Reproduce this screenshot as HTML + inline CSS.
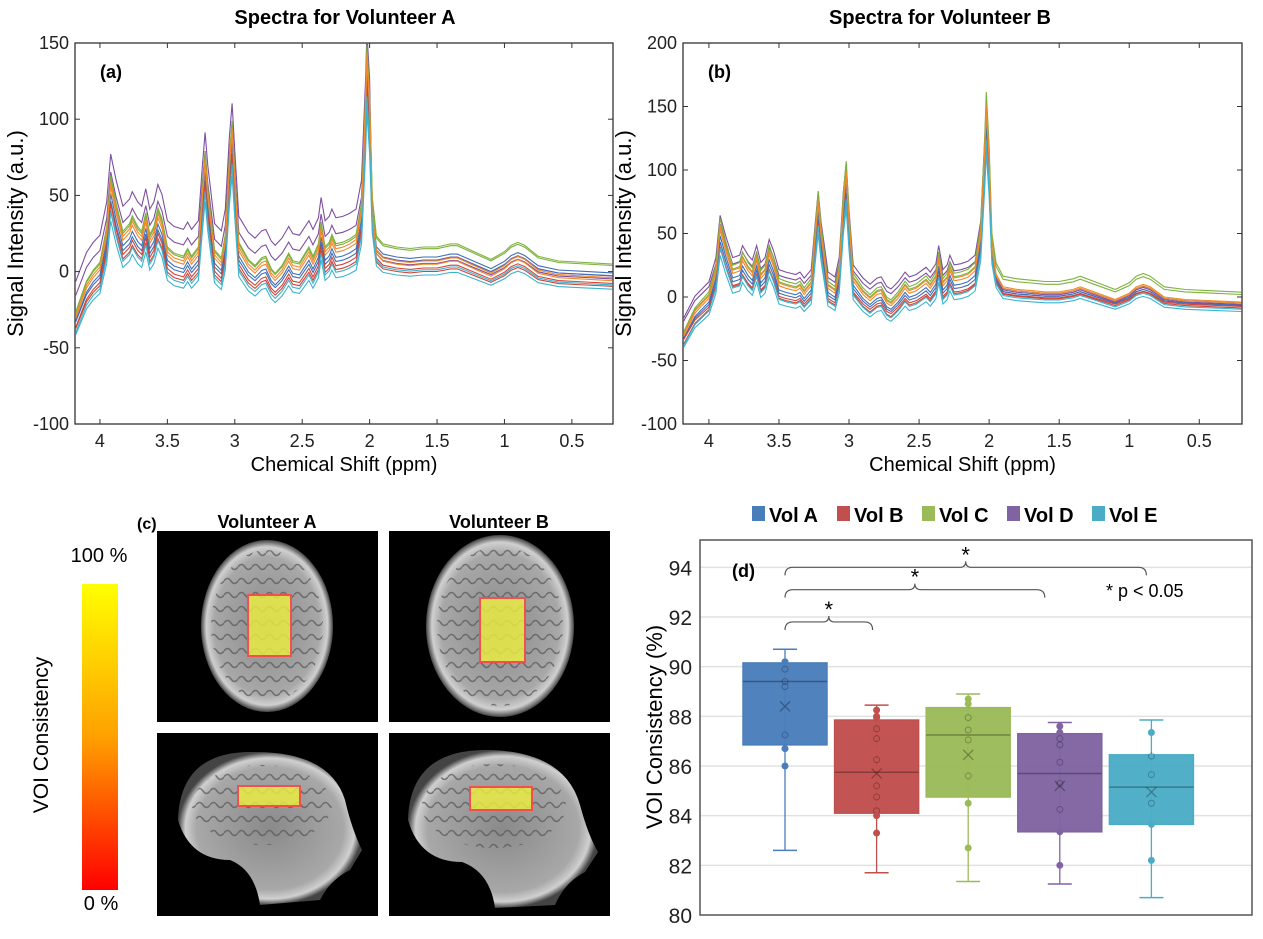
<!DOCTYPE html>
<html><head><meta charset="utf-8">
<style>
body{margin:0;background:#fff;}
svg{display:block;font-family:"Liberation Sans",sans-serif;}
</style></head>
<body>
<svg id="fig" width="1263" height="939" viewBox="0 0 1263 939" xmlns="http://www.w3.org/2000/svg">
<defs>
<linearGradient id="cbar" x1="0" y1="0" x2="0" y2="1">
<stop offset="0" stop-color="#ffff00"/><stop offset="0.5" stop-color="#ffa000"/><stop offset="1" stop-color="#ff0000"/>
</linearGradient>
<radialGradient id="brain" cx="0.5" cy="0.5" r="0.5">
<stop offset="0" stop-color="#8a8a8a"/><stop offset="0.8" stop-color="#a8a8a8"/><stop offset="0.92" stop-color="#d0d0d0"/><stop offset="1" stop-color="#444"/>
</radialGradient>
<pattern id="gyri" width="14" height="14" patternUnits="userSpaceOnUse">
<rect width="14" height="14" fill="none"/>
<path d="M0 7 Q3.5 2 7 7 T14 7" stroke="#555" stroke-width="1.6" fill="none"/>
</pattern>
</defs>

<text x="345" y="24" text-anchor="middle" font-size="20" font-weight="bold">Spectra for Volunteer A</text>
<text x="940" y="24" text-anchor="middle" font-size="20" font-weight="bold">Spectra for Volunteer B</text>

<g id="specA"></g>
<g id="specB"></g>

<g>
<text x="137" y="529" font-size="16" font-weight="bold">(c)</text>
<rect x="82" y="584" width="36" height="306" fill="url(#cbar)"/>
<text x="99" y="562" text-anchor="middle" font-size="20">100 %</text>
<text x="101" y="910" text-anchor="middle" font-size="20">0 %</text>
<text transform="translate(48,735) rotate(-90)" text-anchor="middle" font-size="21">VOI Consistency</text>
<text x="267" y="528" text-anchor="middle" font-size="18" font-weight="bold">Volunteer A</text>
<text x="499" y="528" text-anchor="middle" font-size="18" font-weight="bold">Volunteer B</text>

<g>
<rect x="157" y="531" width="221" height="191" fill="#000"/>
<ellipse cx="267" cy="626" rx="66" ry="86" fill="url(#brain)"/>
<ellipse cx="267" cy="626" rx="56" ry="76" fill="url(#gyri)" opacity="0.7"/>
<rect x="248" y="595" width="43" height="61" fill="#f0f040" fill-opacity="0.8" stroke="#f05050" stroke-width="2"/>
</g>
<g>
<rect x="389" y="531" width="221" height="191" fill="#000"/>
<ellipse cx="500" cy="626" rx="74" ry="91" fill="url(#brain)"/>
<ellipse cx="500" cy="626" rx="63" ry="80" fill="url(#gyri)" opacity="0.7"/>
<rect x="480" y="598" width="45" height="64" fill="#f0f040" fill-opacity="0.8" stroke="#f05050" stroke-width="2"/>
</g>
<g>
<rect x="157" y="733" width="221" height="183" fill="#000"/>
<path d="M178 820 Q180 750 255 752 Q330 752 345 800 Q352 830 362 850 L350 870 Q330 880 320 900 L260 905 Q255 870 230 860 Q190 860 178 820 Z" fill="url(#brain)"/>
<ellipse cx="262" cy="805" rx="70" ry="40" fill="url(#gyri)" opacity="0.7"/>
<rect x="238" y="786" width="62" height="20" fill="#f0f040" fill-opacity="0.8" stroke="#f05050" stroke-width="2"/>
</g>
<g>
<rect x="389" y="733" width="221" height="183" fill="#000"/>
<path d="M408 820 Q410 748 490 750 Q565 752 580 805 Q588 835 598 852 L585 872 Q565 882 555 905 L495 908 Q490 872 462 862 Q420 862 408 820 Z" fill="url(#brain)"/>
<ellipse cx="494" cy="806" rx="72" ry="42" fill="url(#gyri)" opacity="0.7"/>
<rect x="470" y="787" width="62" height="23" fill="#f0f040" fill-opacity="0.8" stroke="#f05050" stroke-width="2"/>
</g>
</g>

<g id="boxpanel"></g>
</svg>

<script>
// ---------- Spectra data ----------
const ppm = [4.18,4.1,4.05,4.0,3.95,3.92,3.88,3.83,3.78,3.76,3.72,3.69,3.66,3.63,3.6,3.57,3.54,3.5,3.45,3.38,3.35,3.32,3.27,3.24,3.22,3.2,3.15,3.1,3.07,3.04,3.02,3.0,2.97,2.9,2.85,2.8,2.77,2.73,2.7,2.65,2.6,2.57,2.52,2.45,2.42,2.38,2.36,2.33,2.3,2.28,2.25,2.2,2.15,2.1,2.06,2.03,2.02,2.0,1.98,1.95,1.9,1.8,1.7,1.6,1.5,1.4,1.35,1.25,1.1,1.0,0.95,0.9,0.85,0.75,0.6,0.4,0.2];
const baseA = [-30,-10,-3,2,25,58,40,22,27,32,25,22,34,20,25,37,30,12,8,6,11,6,12,50,73,50,10,5,20,70,93,60,15,4,0,5,6,-2,-5,0,8,3,2,12,6,14,28,12,15,20,14,15,17,20,40,110,142,110,40,15,10,8,7,8,8,10,10,6,0,5,9,11,9,2,-1,-2,-3];
const baseB = [-30,-12,-6,0,20,55,38,20,22,30,22,18,30,16,20,35,26,10,8,6,8,3,10,50,75,50,8,4,20,75,98,60,14,3,-2,3,4,-4,-6,0,8,4,6,12,8,15,30,10,14,22,14,15,17,22,50,120,150,110,40,18,8,6,5,4,4,6,8,4,-2,3,8,10,8,0,-2,-3,-4];
const seriesColor = ['#7e4fa1','#7e4fa1','#3e6fb8','#3e6fb8','#d0453a','#d0453a','#7fb13e','#7fb13e','#f08a2c','#f08a2c','#3db3cf','#3db3cf'];
const offsetsA = [22,12,-4,-6,-9,-11,4,3,1,-1,-16,-13];
const tailOffsetsA = [0,-2,2,0,-5,-7,8,7,-1,-3,-9,-6];
const scalesA = [0.95,0.92,0.95,0.9,0.92,0.88,1.02,1.0,1.0,0.98,0.85,0.9];
const offsetsB = [12,8,-4,-6,-10,-8,4,2,1,-1,-14,-11];
const tailOffsetsB = [-2,-3,-1,-3,-5,-4,8,6,0,-1,-8,-6];
const scalesB = [0.95,0.9,0.95,0.9,0.9,0.85,1.05,1.0,1.0,0.98,0.85,0.9];
const ticksXppm = [4,3.5,3,2.5,2,1.5,1,0.5];
const ticksYA = [-100,-50,0,50,100,150];
const ticksYB = [-100,-50,0,50,100,150,200];

const NS='http://www.w3.org/2000/svg';
function mk(tag, attrs, parent){const e=document.createElementNS(NS,tag);for(const k in attrs)e.setAttribute(k,attrs[k]);parent.appendChild(e);return e;}

function drawSpectrum(g, box, yMin, yMax, yTicks, base, offs, tails, scales, label, name){
  const xs = p => box.x0 + (4.185 - p)/(4.185-0.195)*(box.x1-box.x0);
  const ys = v => box.y1 - (v-yMin)/(yMax-yMin)*(box.y1-box.y0);
  mk('rect',{x:box.x0,y:box.y0,width:box.x1-box.x0,height:box.y1-box.y0,fill:'none',stroke:'#333','stroke-width':1.3},g);
  const cl = mk('clipPath',{id:'clip'+name},g);
  mk('rect',{x:box.x0,y:box.y0,width:box.x1-box.x0,height:box.y1-box.y0},cl);
  const lines = mk('g',{'clip-path':'url(#clip'+name+')'},g);
  for(let s=0;s<offs.length;s++){
    let d='';
    for(let i=0;i<ppm.length;i++){
      const off = ppm[i] > 1.99 ? offs[s] : tails[s];
      const v = base[i]*scales[s]+off;
      d += (i?'L':'M')+xs(ppm[i]).toFixed(1)+' '+ys(v).toFixed(1);
    }
    const p = mk('path',{d:d,fill:'none',stroke:seriesColor[s],'stroke-width':1.1},lines);
    
    
  }
  ticksXppm.forEach(t=>{
    const x=xs(t);
    mk('line',{x1:x,x2:x,y1:box.y1,y2:box.y1-5,stroke:'#333'},g);
    mk('line',{x1:x,x2:x,y1:box.y0,y2:box.y0+5,stroke:'#333'},g);
    const tx=mk('text',{x:x,y:box.y1+23,'text-anchor':'middle','font-size':18,fill:'#222'},g);
    tx.textContent=t;
    
    
  });
  yTicks.forEach(t=>{
    const y=ys(t);
    mk('line',{x1:box.x0,x2:box.x0+5,y1:y,y2:y,stroke:'#333'},g);
    mk('line',{x1:box.x1,x2:box.x1-5,y1:y,y2:y,stroke:'#333'},g);
    const tx=mk('text',{x:box.x0-6,y:y+6,'text-anchor':'end','font-size':18,fill:'#222'},g);
    tx.textContent=t;
    
    
  });
  const xt=mk('text',{x:(box.x0+box.x1)/2,y:box.y1+47,'text-anchor':'middle','font-size':20},g);
  xt.textContent='Chemical Shift (ppm)';
  
  
  const yt=mk('text',{transform:'translate('+(box.x0-52)+','+((box.y0+box.y1)/2)+') rotate(-90)','text-anchor':'middle','font-size':22},g);
  yt.textContent='Signal Intensity (a.u.)';
  
  
  const pl=mk('text',{x:box.x0+25,y:box.y0+35,'font-size':18,'font-weight':'bold'},g);
  pl.textContent=label;
  
  
}
drawSpectrum(document.getElementById('specA'),{x0:75,x1:613,y0:43,y1:424},-100,150,ticksYA,baseA,offsetsA,tailOffsetsA,scalesA,'(a)','A');
drawSpectrum(document.getElementById('specB'),{x0:683,x1:1242,y0:43,y1:424},-100,200,ticksYB,baseB,offsetsB,tailOffsetsB,scalesB,'(b)','B');

// ---------- Box plot data ----------
const vols = ['Vol A','Vol B','Vol C','Vol D','Vol E'];
const boxColors = ['#4a7ebb','#c0504d','#9bbb59','#8064a2','#4bacc6'];
const q1 = [86.85,84.1,84.75,83.35,83.65];
const q3 = [90.15,87.85,88.35,87.3,86.45];
const medians = [89.4,85.75,87.25,85.7,85.15];
const whiskLo = [82.6,81.7,81.35,81.25,80.7];
const whiskHi = [90.7,88.45,88.9,87.75,87.85];
const means = [88.4,85.7,86.45,85.2,84.95];
const points = [
  [90.2,89.9,89.4,89.2,87.25,86.7,86.0],
  [88.25,88.0,87.95,87.5,87.1,86.25,85.2,84.75,84.2,84.0,83.3],
  [88.7,88.5,87.95,87.45,87.05,85.6,84.5,82.7],
  [87.6,87.35,87.1,86.85,86.15,85.3,84.25,83.35,82.0],
  [87.35,86.4,85.65,84.5,83.65,82.2]
];
const yTicksD = [80,82,84,86,88,90,92,94];
const brackets = [[0,1,91.8],[0,3,93.1],[0,4,94.0]];

(function(){
  const g=document.getElementById('boxpanel');
  const B={x0:700,x1:1252,y0:540,y1:915};
  const ys=v=>B.y1-(v-80)/(95.1-80)*(B.y1-B.y0);
  const xc=i=>785+i*91.6;
  const bw=84;
  yTicksD.forEach(t=>{
    const y=ys(t);
    if(t>80) mk('line',{x1:B.x0,x2:B.x1,y1:y,y2:y,stroke:'#e2e2e2','stroke-width':1.5},g);
    const tx=mk('text',{x:B.x0-8,y:y+8,'text-anchor':'end','font-size':21,fill:'#222'},g);
    tx.textContent=t;
    
    
  });
  mk('rect',{x:B.x0,y:B.y0,width:B.x1-B.x0,height:B.y1-B.y0,fill:'none',stroke:'#555','stroke-width':1.5},g);
  const yt=mk('text',{transform:'translate(662,727) rotate(-90)','text-anchor':'middle','font-size':22},g);
  yt.textContent='VOI Consistency (%)';
  
  
  const pl=mk('text',{x:732,y:577,'font-size':18,'font-weight':'bold'},g);
  pl.textContent='(d)';
  
  
  vols.forEach((v,i)=>{
    const c=boxColors[i], x=xc(i);
    const grp=mk('g',{},g);
    
    
    mk('line',{x1:x,x2:x,y1:ys(whiskLo[i]),y2:ys(whiskHi[i]),stroke:c,'stroke-width':1.3},grp);
    mk('line',{x1:x-12,x2:x+12,y1:ys(whiskLo[i]),y2:ys(whiskLo[i]),stroke:c,'stroke-width':1.5},grp);
    mk('line',{x1:x-12,x2:x+12,y1:ys(whiskHi[i]),y2:ys(whiskHi[i]),stroke:c,'stroke-width':1.5},grp);
    mk('rect',{x:x-bw/2,y:ys(q3[i]),width:bw,height:ys(q1[i])-ys(q3[i]),fill:c,stroke:c,'stroke-width':1.5,'fill-opacity':0.97},grp);
    mk('line',{x1:x-bw/2,x2:x+bw/2,y1:ys(medians[i]),y2:ys(medians[i]),stroke:'rgba(0,0,0,0.3)','stroke-width':1.5},grp);
    const m=ys(means[i]);
    mk('path',{d:`M${x-5} ${m-5}L${x+5} ${m+5}M${x+5} ${m-5}L${x-5} ${m+5}`,stroke:'rgba(0,0,0,0.3)','stroke-width':1.3},grp);
    points[i].forEach(p=>{
      const inBox=p<q3[i]&&p>q1[i];
      const pt=mk('circle',{cx:x,cy:ys(p),r:3,fill:inBox?'none':c,stroke:inBox?'rgba(0,0,0,0.25)':c,'stroke-width':1},grp);
      
      
    });
    const lx=752+i*85;
    const sw=mk('rect',{x:lx,y:506,width:13,height:15,fill:c},g);
    
    
    const lt=mk('text',{x:lx+17,y:522,'font-size':20,'font-weight':'bold'},g);
    lt.textContent=v;
    
    
  });
  brackets.forEach(b=>{
    const x1=xc(b[0]), x2=xc(b[1])-(b[1]===1?4:b[1]===3?15:5), y=ys(b[2]), mx=(x1+x2)/2;
    const p=mk('path',{d:`M${x1} ${y+8}Q${x1} ${y} ${x1+8} ${y}L${mx-6} ${y}Q${mx} ${y} ${mx} ${y-6}Q${mx} ${y} ${mx+6} ${y}L${x2-8} ${y}Q${x2} ${y} ${x2} ${y+8}`,fill:'none',stroke:'#555','stroke-width':1.2},g);
    
    
    const s=mk('text',{x:mx,y:y-5,'text-anchor':'middle','font-size':22},g);
    s.textContent='*';
    
    
  });
  const note=mk('text',{x:1106,y:597,'font-size':18},g);
  note.textContent='* p < 0.05';
  
  
})();
</script>
</body></html>
